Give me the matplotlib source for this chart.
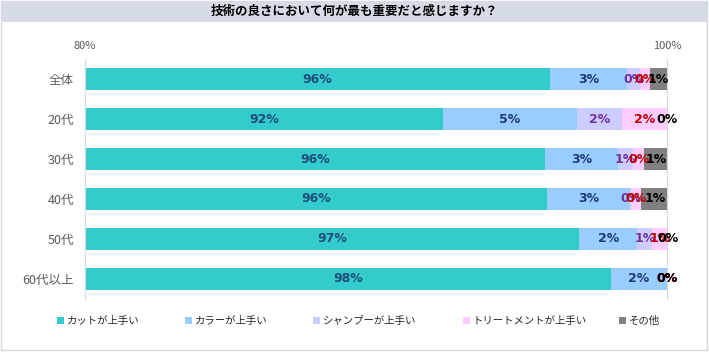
import matplotlib.pyplot as plt
from matplotlib.patches import Rectangle
import numpy as np

plt.rcParams['font.family'] = ['Noto Sans CJK JP', 'DejaVu Sans']

categories = ['全体', '20代', '30代', '40代', '50代', '60代以上']
series_names = ['カットが上手い', 'カラーが上手い', 'シャンプーが上手い', 'トリートメントが上手い', 'その他']
cut = [95.98, 92.3, 95.8, 95.88, 96.98, 98.08]
color_ = [2.65, 4.6, 2.52, 2.85, 2.0, 1.92]
shampoo = [0.45, 1.55, 0.52, 0.05, 0.52, 0.0]
treatment = [0.34, 1.55, 0.38, 0.34, 0.52, 0.0]
other = [0.58, 0.0, 0.82, 0.93, 0.0, 0.0]

bar_colors = ['#33cccc', '#99ccff', '#ccccff', '#ffccff', '#808080']
label_colors = ['#1f4e79', '#1f3a7a', '#7030a0', '#c00000', '#000000']
legend_x = [58, 186, 314, 464, 620]  # pixel x of each legend marker

fig = plt.figure(figsize=(7.09, 3.57), dpi=100)

# frame and title bar
fig.patches.append(Rectangle((0.002, 0.02), 0.995, 0.977, transform=fig.transFigure,
                             fill=False, edgecolor='#d9d9d9', lw=1))
fig.patches.append(Rectangle((0.002, 0.938), 0.995, 0.06, transform=fig.transFigure,
                             facecolor='#d6dce5', edgecolor='none'))
fig.text(0.5, 0.968, '技術の良さにおいて何が最も重要だと感じますか？', ha='center', va='center',
         fontsize=9, fontweight='bold', color='#000000')

ax = fig.add_axes([0.1199, 0.1625, 0.8208, 0.6722])
series = [cut, color_, shampoo, treatment, other]
y = np.arange(len(categories))
left = np.zeros(len(categories))
handles = []
for vals, bc, lc, name in zip(series, bar_colors, label_colors, series_names):
    vals = np.array(vals)
    h = ax.barh(y, vals, left=left, height=0.55, color=bc, label=name)
    handles.append(h)
    for yi, l, v in zip(y, left, vals):
        cx = (max(l, 80) + l + v) / 2
        ax.text(cx, yi, f'{np.floor(v + 0.5):.0f}%', ha='center', va='center',
                fontsize=9, fontweight='bold', color=lc, family='DejaVu Sans')
    left = left + vals

ax.set_xlim(80, 100)
ax.set_ylim(len(categories) - 0.5, -0.5)
ax.set_yticks(y)
ax.set_yticklabels(categories, fontsize=9, color='#595959')
ax.xaxis.tick_top()
ax.set_xticks([80, 100])
ax.set_xticklabels(['80%', '100%'], fontsize=8, color='#595959')
ax.tick_params(axis='x', length=0, pad=6)
ax.tick_params(axis='y', length=0, pad=8)
for s in ['top', 'bottom']:
    ax.spines[s].set_visible(False)
for s in ['left', 'right']:
    ax.spines[s].set_color('#d9d9d9')
    ax.spines[s].set_linewidth(0.8)

for h, name, px in zip(handles, series_names, legend_x):
    leg = fig.legend([h], [name], loc='center left', bbox_to_anchor=((px - 10) / 709, 1 - 321 / 357),
                     frameon=False, fontsize=7.5, handlelength=0.6, handleheight=0.6,
                     handletextpad=0.3)
    for t in leg.get_texts():
        t.set_color('#262626')

fig.savefig('out.png', dpi=100)
